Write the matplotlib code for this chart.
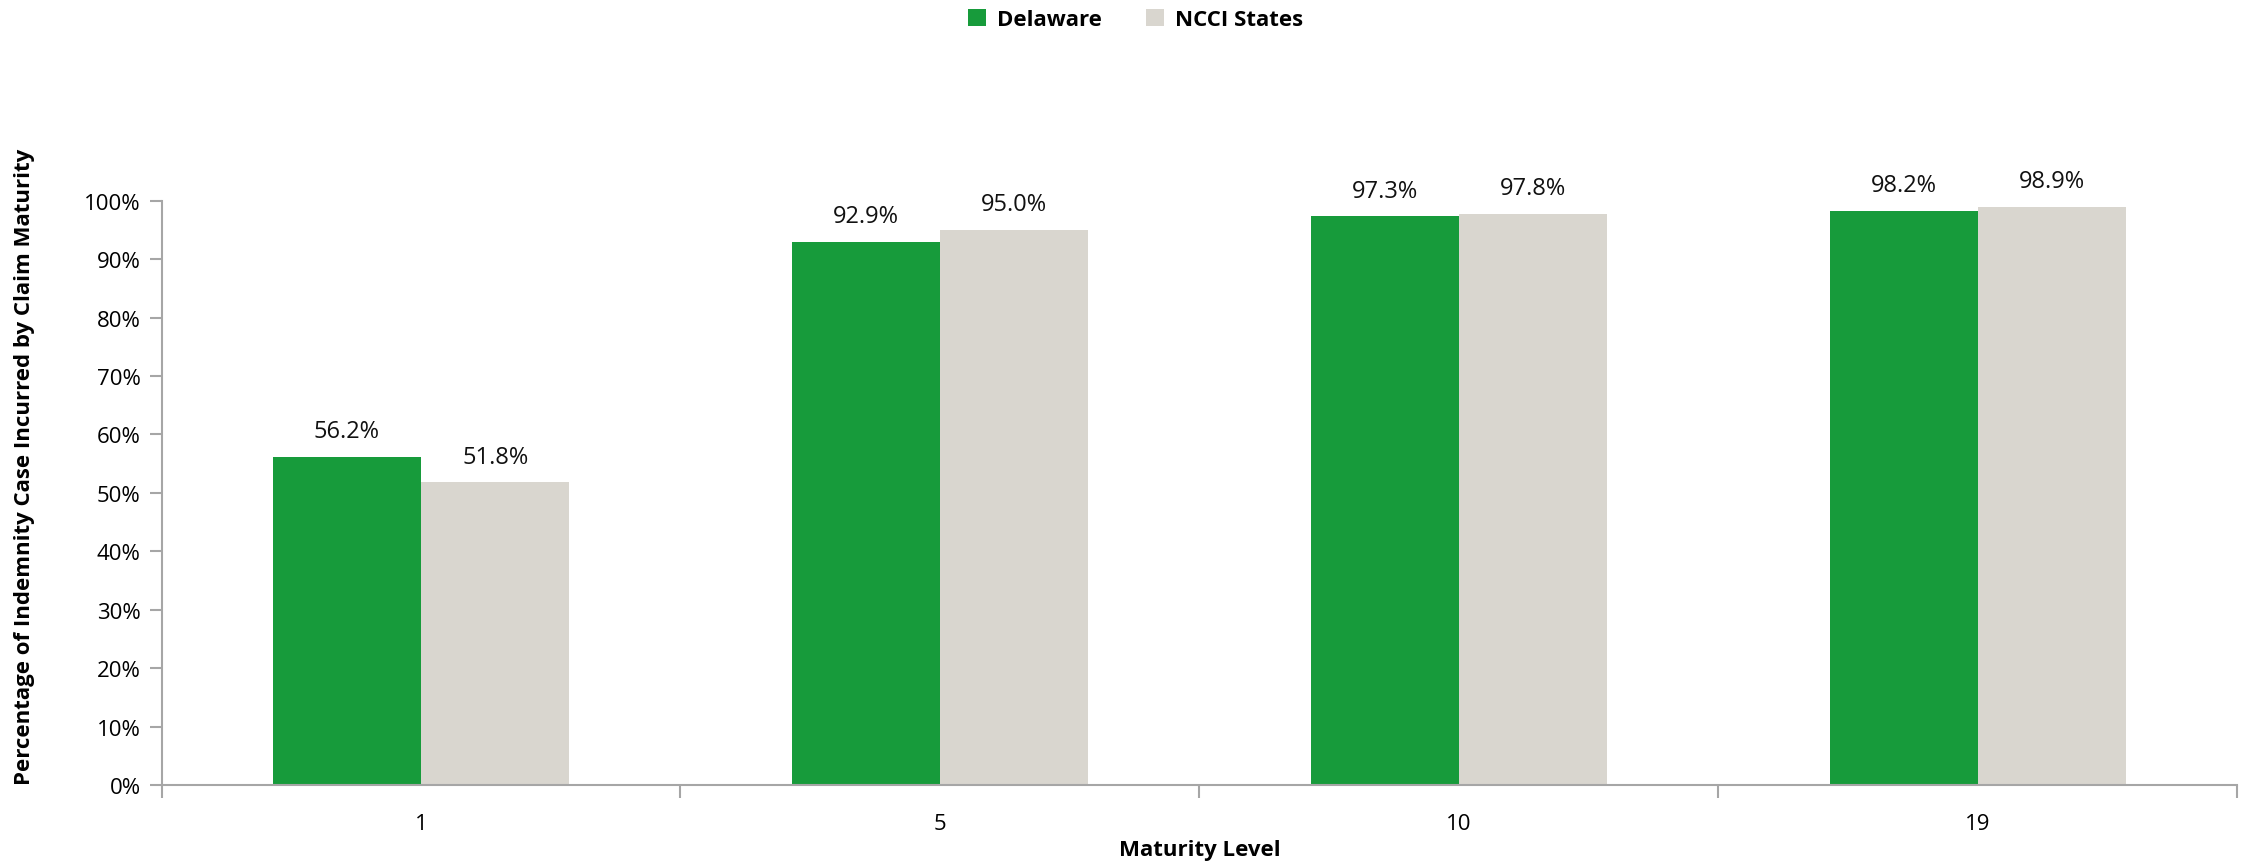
import numpy as np
import matplotlib.pyplot as plt
from matplotlib.ticker import FixedLocator, PercentFormatter

# Dados
categories = ['1', '5', '10', '19']
delaware = [56.2, 92.9, 97.3, 98.2]
ncci = [51.8, 95.0, 97.8, 98.9]

green = '#179B3B'
grey = '#D9D6CF'
axis_col = '#A6A6A6'

plt.rcParams['font.family'] = ['Open Sans', 'DejaVu Sans']

fig = plt.figure(figsize=(22.44, 8.62), dpi=100)
ax = fig.add_axes([0.072, 0.088, 0.925, 0.678])

x = np.arange(len(categories))
w = 1 / 3.5  # largura de barra tipo Excel (gap 150%)

b1 = ax.bar(x - w / 2, delaware, w, color=green, label='Delaware')
b2 = ax.bar(x + w / 2, ncci, w, color=grey, label='NCCI States')

for bars in (b1, b2):
    ax.bar_label(bars, labels=[f'{v:.1f}%' for v in bars.datavalues],
                 padding=10, fontsize=17, color='#111111')

ax.set_xlim(-0.5, len(categories) - 0.5)
ax.set_ylim(0, 100)
ax.set_yticks(np.arange(0, 101, 10))
ax.yaxis.set_major_formatter(PercentFormatter(decimals=0))

ax.set_xticks(x)
ax.set_xticklabels(categories)
ax.xaxis.set_minor_locator(FixedLocator(np.arange(-0.5, len(categories), 1)))
ax.tick_params(axis='x', which='major', length=0, pad=20, labelsize=16)
ax.tick_params(axis='x', which='minor', length=9, color=axis_col, width=1.5)
ax.tick_params(axis='y', length=9, color=axis_col, width=1.5, labelsize=16, pad=6)

for s in ['top', 'right']:
    ax.spines[s].set_visible(False)
for s in ['left', 'bottom']:
    ax.spines[s].set_color(axis_col)
    ax.spines[s].set_linewidth(1.5)

ax.set_xlabel('Maturity Level', fontsize=16, fontweight='bold', labelpad=4)
ax.set_ylabel('Percentage of Indemnity Case Incurred by Claim Maturity',
              fontsize=16, fontweight='bold')
ax.yaxis.set_label_coords(-0.061, 0.547)

fig.legend(handles=[b1, b2], loc='upper center', bbox_to_anchor=(0.506, 1.012),
           ncol=2, frameon=False, prop={'weight': 'bold', 'size': 16},
           handlelength=0.8, handleheight=0.8, columnspacing=2.0, handletextpad=0.5)

fig.savefig('out.png', dpi=100)
